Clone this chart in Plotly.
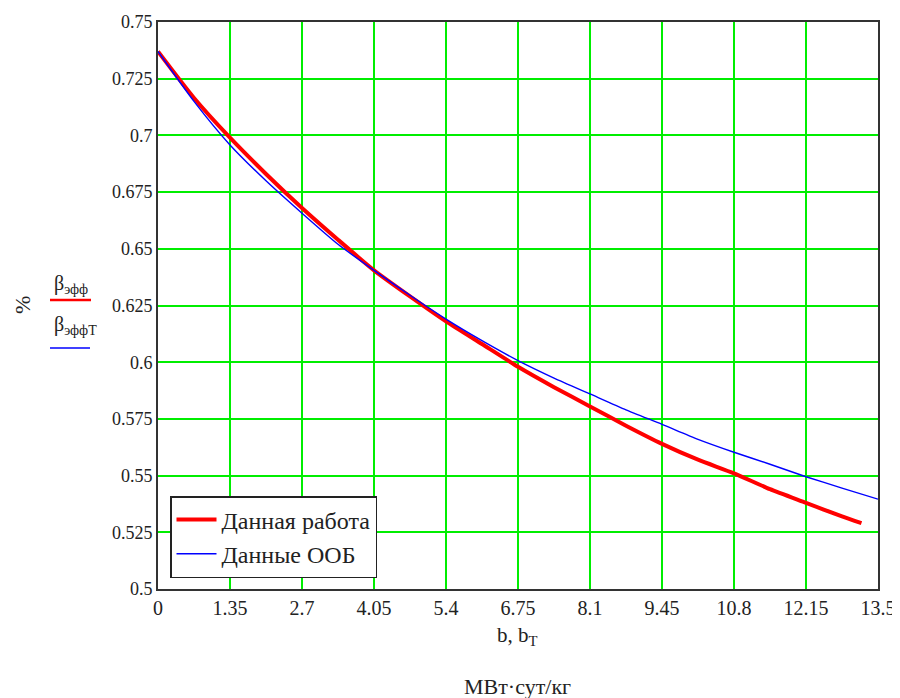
import plotly.graph_objects as go

# Data
x_work = [0, 0.675, 1.35, 2.025, 2.7, 3.375, 4.05, 4.725, 5.4, 6.075, 6.75,
          7.425, 8.1, 8.775, 9.45, 10.125, 10.8, 11.475, 12.15, 12.825, 13.19]
y_work = [0.737, 0.7165, 0.699, 0.683, 0.668, 0.654, 0.6405, 0.629, 0.618, 0.608, 0.598,
          0.589, 0.5805, 0.572, 0.564, 0.557, 0.551, 0.544, 0.538, 0.532, 0.529]

x_oob = [0, 0.675, 1.35, 2.025, 2.7, 3.375, 4.05, 4.725, 5.4, 6.075, 6.75,
         7.425, 8.1, 8.775, 9.45, 10.125, 10.8, 11.475, 12.15, 12.825, 13.5]
y_oob = [0.737, 0.715, 0.6958, 0.680, 0.6657, 0.652, 0.6405, 0.6295, 0.619, 0.6095, 0.6007,
         0.593, 0.586, 0.579, 0.5726, 0.566, 0.5603, 0.555, 0.5495, 0.5445, 0.5396]

x_ticks = [0, 1.35, 2.7, 4.05, 5.4, 6.75, 8.1, 9.45, 10.8, 12.15, 13.5]
x_tick_labels = ["0", "1.35", "2.7", "4.05", "5.4", "6.75", "8.1", "9.45", "10.8", "12.15", "13.5"]
y_ticks = [0.5, 0.525, 0.55, 0.575, 0.6, 0.625, 0.65, 0.675, 0.7, 0.725, 0.75]
y_tick_labels = ["0.5", "0.525", "0.55", "0.575", "0.6", "0.625", "0.65", "0.675", "0.7", "0.725", "0.75"]

series_names = ["Данная работа", "Данные ООБ"]

FONT = "Liberation Serif, Times New Roman, serif"
TXT = "#222222"

# plot area in screen pixels (reference): x 158..878, y 22..589
PL, PR, PT, PB = 158, 878, 22, 589


def px(sx):
    return (sx - PL) / (PR - PL)


def py(sy):
    return (PB - sy) / (PB - PT)


fig = go.Figure()
fig.add_trace(go.Scatter(x=x_work, y=y_work, mode="lines", name=series_names[0],
                         line=dict(color="#ff0000", width=4, shape="spline", smoothing=0.6)))
fig.add_trace(go.Scatter(x=x_oob, y=y_oob, mode="lines", name=series_names[1],
                         line=dict(color="#0000ff", width=1.4, shape="spline", smoothing=0.6)))

axis_common = dict(
    showgrid=True, gridcolor="#00ee00", gridwidth=1.6,
    showline=True, linecolor="#333333", linewidth=2, mirror=True,
    zeroline=False, ticks="", automargin=False,
)

fig.update_xaxes(range=[0, 13.5], tickvals=x_ticks, ticktext=x_tick_labels,
                 tickfont=dict(family=FONT, size=20, color=TXT), **axis_common)
fig.update_yaxes(range=[0.5, 0.75], tickvals=y_ticks, ticktext=y_tick_labels,
                 tickfont=dict(family=FONT, size=18, color=TXT), **axis_common)

# page body has an 8px margin, so the figure is 8px smaller and margins shifted
fig.update_layout(
    width=892, height=690,
    margin=dict(l=PL - 8, r=892 + 8 - PR, t=PT - 8, b=690 + 8 - PB),
    paper_bgcolor="white", plot_bgcolor="white",
    font=dict(family=FONT, color=TXT),
    legend=dict(x=px(170), y=py(578), xanchor="left", yanchor="bottom",
                bgcolor="white", bordercolor="#222222", borderwidth=1.5,
                font=dict(family=FONT, size=24, color=TXT),
                itemwidth=40, tracegroupgap=0),
    showlegend=True,
)

# Axis labels (MathCad-style)
fig.add_annotation(text="b, b<sub>T</sub>", xref="paper", yref="paper", x=px(517), y=py(636),
                   xanchor="center", yanchor="middle", showarrow=False,
                   font=dict(family=FONT, size=21, color=TXT))
fig.add_annotation(text="МВт·сут/кг", xref="paper", yref="paper", x=px(517), y=py(686),
                   xanchor="center", yanchor="middle", showarrow=False,
                   font=dict(family=FONT, size=22, color=TXT))
fig.add_annotation(text="%", xref="paper", yref="paper", x=px(22), y=py(305),
                   xanchor="center", yanchor="middle", showarrow=False, textangle=-90,
                   font=dict(family=FONT, size=22, color=TXT))
fig.add_annotation(text="β<sub>эфф</sub>", xref="paper", yref="paper", x=px(52),
                   y=py(284), xanchor="left", yanchor="middle", showarrow=False,
                   font=dict(family=FONT, size=20, color=TXT))
fig.add_annotation(text="β<sub>эффT</sub>", xref="paper", yref="paper", x=px(52),
                   y=py(325), xanchor="left", yanchor="middle", showarrow=False,
                   font=dict(family=FONT, size=20, color=TXT))
fig.add_shape(type="line", xref="paper", yref="paper", x0=px(50), x1=px(91),
              y0=py(300), y1=py(300), line=dict(color="#ff0000", width=2.5))
fig.add_shape(type="line", xref="paper", yref="paper", x0=px(50), x1=px(90),
              y0=py(348), y1=py(348), line=dict(color="#0000ff", width=1.4))

fig.write_html("out.html")
